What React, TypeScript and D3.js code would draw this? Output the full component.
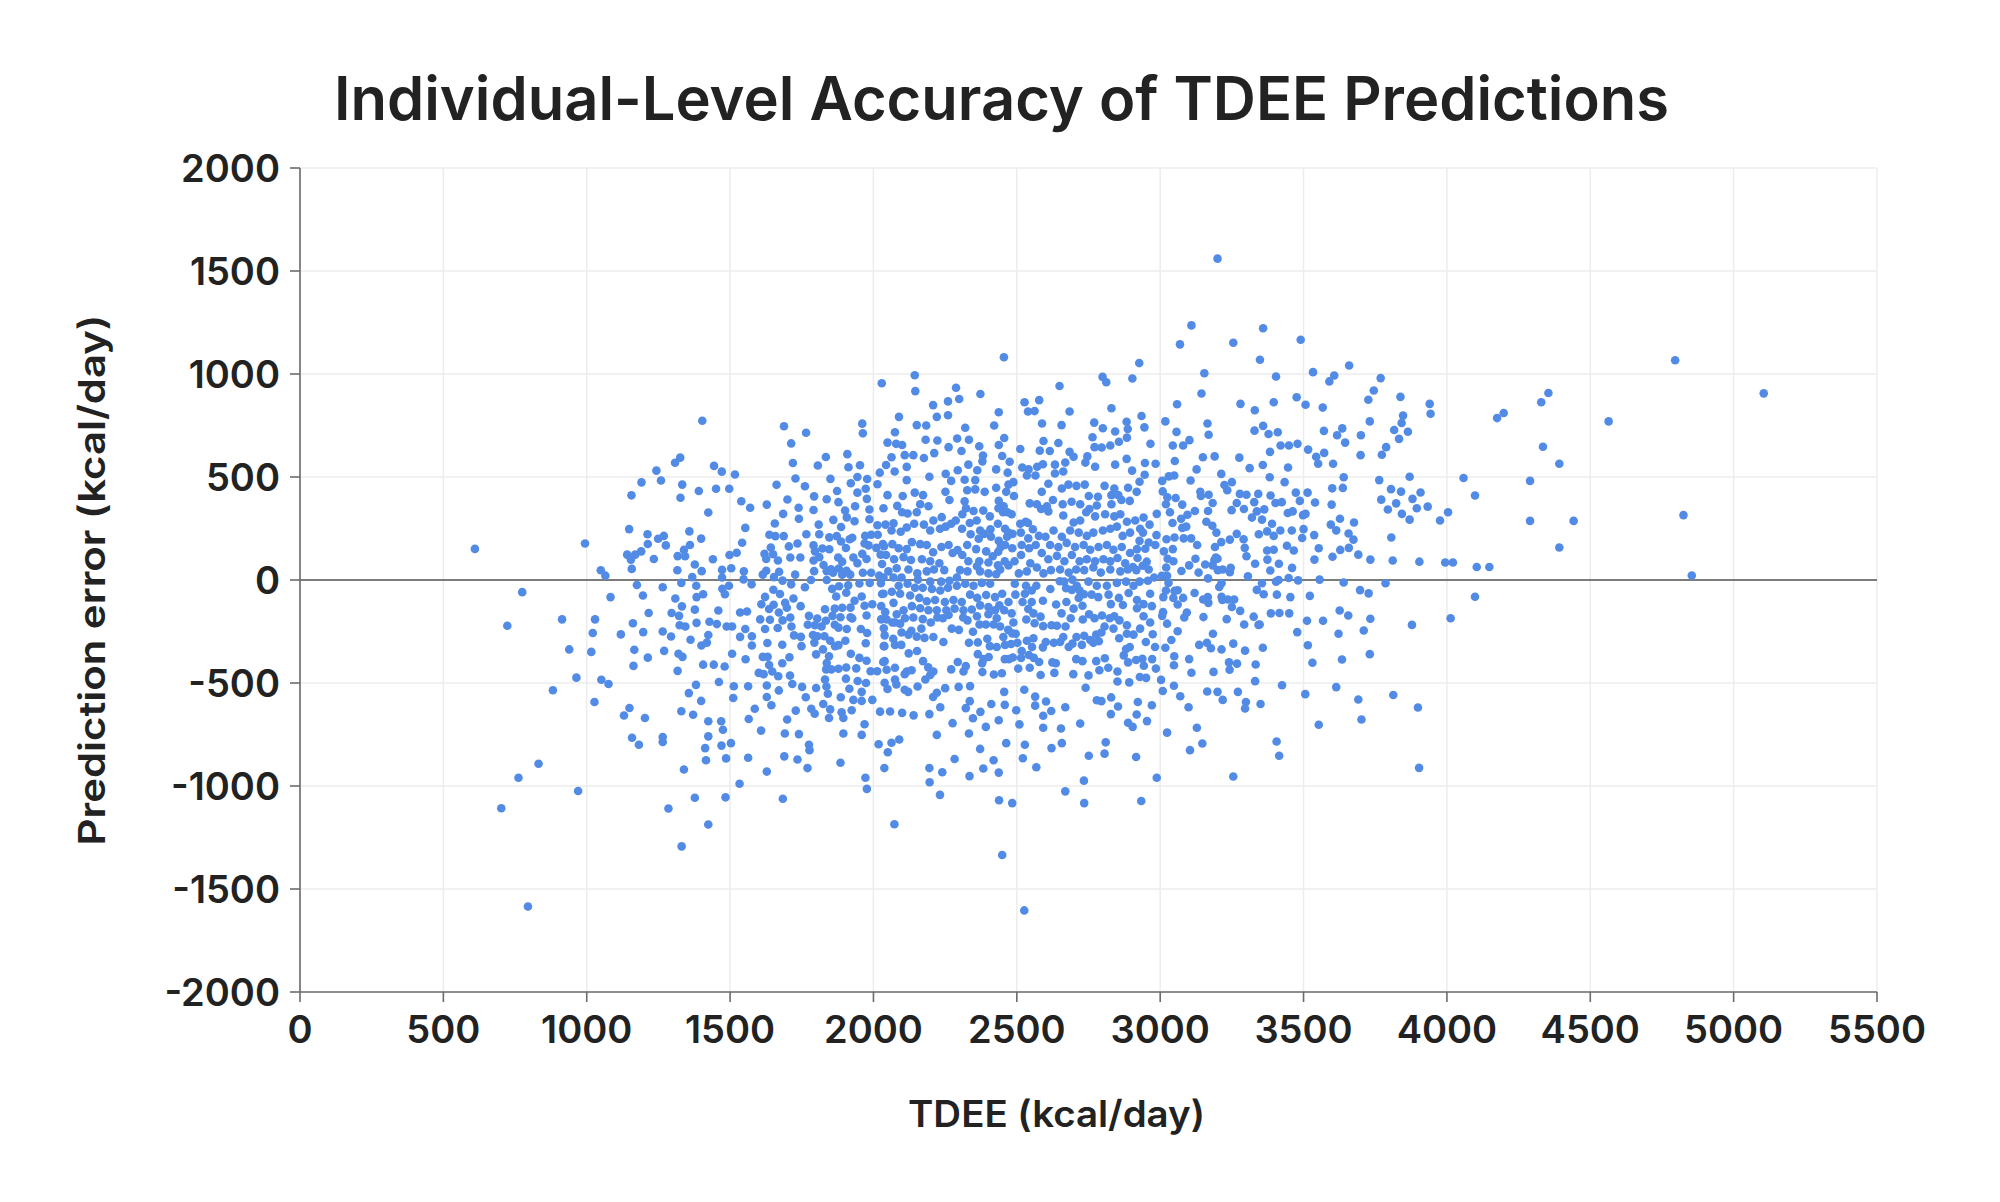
import { useEffect } from 'react'
import * as d3 from 'd3'

// TDEE (kcal/day) vs prediction error (kcal/day)
const lowRange: [number, number][] = [
  [610,151],[775,-59],[723,-222],[702,-1108],[762,-960],[832,-892],[795,-1585],[882,-535],[914,-191],[939,-337],
  [964,-474],[970,-1024],[994,177],[1027,-592],[1021,-257],[1029,-191],[1016,-349],[1049,47],[1065,21],[1083,-83],
  [1051,-484],[1076,-505],[1119,-264],[1130,-658],[1149,-621],[1148,247],[1156,411],[1157,54],[1141,123],[1154,99],
  [1169,123],[1191,474],[1190,139],[1175,-24],[1196,-75],[1161,-210],[1197,-253],[1166,-339],[1163,-417],[1158,-766],
  [1182,-800],[1203,-670],[1213,-377],[1216,-160],[1212,222],[1213,175],[1234,102],[1243,531],[1259,483],[1249,200],
  [1269,214],[1276,168],[1265,-35],[1265,-250],[1270,-344],[1265,-762],[1265,-786],[1285,-1109],[1294,-274],[1296,-160],
  [1309,-90],[1322,-174],[1324,-220],[1320,-358],[1334,-373],[1317,-441],[1330,-637],[1331,-1293],[1339,-920],[1308,569],
  [1326,594],[1333,463],[1327,399],[1316,47],[1330,-14],[1332,-128],[1317,116],[1343,115],[1339,146],[1358,236],
  [1360,170],[1344,-226],[1362,-290],[1371,-654],[1356,-549],[1377,-144],[1383,-208],[1382,-28],[1383,-83],[1368,14],
  [1377,75],[1391,432],[1403,773],[1399,201],[1401,43],[1406,-69],[1424,328],[1400,-318],[1424,-267],[1419,-304],
  [1428,-203],[1406,-411],[1399,-587],[1381,-509],[1424,-686],[1424,-759],[1413,-816],[1416,-875],[1377,-1057],[1424,-1187],
  [1444,554],[1451,443],[1440,101],[1454,-214],[1459,-148],[1443,-411],[1471,526],[1497,443],[1517,512],[1481,-420],
  [1461,-495],[1469,-686],[1475,-727],[1470,-804],[1503,-792],[1486,-866],[1484,-1055],[1533,-989],[1472,12],[1473,-43],
  [1482,-69],[1496,-28],[1504,57],[1498,121],[1523,132],[1472,49],[1507,-226],[1488,-226],[1507,-358],[1513,-516],
  [1511,-573],[1539,382],[1570,351],[1553,253],[1542,181],[1548,42],[1547,3],[1575,-21],[1535,-158],[1559,-153],
  [1535,-276],[1553,-238],[1576,-273],[1576,-318],[1554,-385],[1563,-516],[1586,-625],[1565,-675],[1563,-863],[1628,366],
  [1614,26],[1620,127],[1637,220],[1656,274],[1662,462],[1685,321],[1688,746],[1713,663],[1765,715],[1719,568],
  [1728,493],[1700,391],[1739,351],[1740,297],[1761,455],[1793,406],[1791,340],[1806,556],[1834,597],[1837,392],
  [1850,491],[1622,-82],[1609,-118],[1636,-141],[1622,-238],[1605,-191],[1630,-306],[1614,-373],[1636,-413],[1600,-451],
  [1617,-457],[1631,-373],[1628,-512],[1628,-568],[1644,-608],[1628,-930],[1608,-731],[1626,102],[1642,158],[1658,213],
  [1650,125],[1667,95],[1626,45],[1653,14],[1671,40],[1683,-3],[1651,-47],[1674,-68],[1652,-120],[1692,-111],
  [1670,-158],[1698,-135],[1639,-193],[1666,-233],[1683,-196],[1682,-314],[1682,-404],[1707,-375],[1709,-464],[1717,-505],
  [1647,-444],[1668,-467],[1670,-536],[1699,-677],[1691,-745],[1740,-748],[1689,-856],[1735,-871],[1770,-913],[1684,-1062],
  [1687,213],[1705,163],[1710,109],[1713,-21],[1727,26],[1735,177],[1745,109],[1766,222],[1809,269],[1721,-90],
  [1746,-127],[1710,-182],[1714,-226],[1723,-269],[1747,-276],[1749,-321],[1751,-519],[1764,-569],[1729,-634],[1783,-625],
  [1795,-649],[1775,-800],[1777,-826],[1761,-35],[1782,0],[1793,43],[1791,95],[1791,168],[1796,139],[1822,153],
  [1811,111],[1826,73],[1837,43],[1846,149],[1852,52],[1872,213],[1846,207],[1811,222],[1860,292],[1873,432],
  [1878,378],[1901,337],[1907,304],[1887,257],[1909,611],[1913,547],[1953,557],[1944,500],[1921,470],[1944,424],
  [1936,358],[1978,490],[1973,443],[1977,394],[1986,342],[1961,759],[1963,712],[2014,465],[2022,521],[2029,955],
  [1934,285],[1986,295],[1971,214],[1992,220],[2014,266],[2015,220],[1887,187],[1917,198],[1904,155],[1926,205],
  [1969,177],[1983,168],[2010,156],[2033,174],[1877,109],[1891,89],[1930,109],[1944,82],[1961,127],[1976,102],
  [2025,123],[2030,78],[1837,0],[1859,35],[1879,56],[1891,26],[1906,45],[1919,26],[1963,35],[1992,35],
  [2020,21],[1856,-43],[1880,-30],[1912,-26],[1951,-17],[1987,-14],[2026,-16],[1870,-80],[1905,-62],[1934,-101],
  [1959,-80],[2030,-68],[1996,-118],[1969,-125],[1920,-134],[1891,-135],[1865,-139],[1831,-142],[2027,-127],[1857,-174],
  [1885,-181],[1920,-181],[1926,-187],[1976,-172],[2027,-191],[1804,-187],[1775,-174],[1771,-217],[1796,-220],[1819,-226],
  [1834,-198],[1865,-217],[1878,-231],[1907,-238],[1956,-238],[1978,-257],[2036,-234],[1789,-267],[1804,-273],[1829,-273],
  [1849,-295],[1866,-321],[1878,-316],[1902,-295],[1973,-307],[2036,-321],[1794,-304],[1800,-361],[1824,-337],[1845,-370],
  [1921,-358],[1951,-378],[1976,-392],[2034,-398],[1837,-403],[1835,-434],[1853,-434],[1878,-431],[1905,-425],[1940,-429],
  [1990,-443],[2013,-443],[1831,-483],[1836,-517],[1904,-479],[1800,-524],[1841,-552],[1886,-569],[1916,-528],[1945,-490],
  [1974,-500],[1959,-543],[1930,-582],[1959,-587],[1996,-582],[1825,-602],[1849,-628],[1845,-670],[1889,-642],[1895,-670],
  [1924,-632],[2023,-639],[1895,-745],[1959,-752],[1969,-700],[2018,-797],[1885,-887],[1972,-960],[1977,-1014],
]

const midRange: [number, number][] = [
  [3200,1560],[3109,1236],[3069,1144],[3255,1152],[3359,1222],[3490,1166],[3348,1069],[2455,1081],[2927,1053],[2144,994],
  [2146,917],[2288,933],[2260,867],[2299,879],[2373,903],[2208,849],[2221,792],[2260,800],[2089,792],[2151,752],
  [2184,750],[2799,986],[2812,960],[2903,978],[2649,942],[2527,863],[2578,873],[2539,818],[2562,820],[2437,814],
  [2684,818],[2830,834],[3154,1004],[3144,905],[3404,988],[3280,855],[3396,863],[3476,887],[3059,853],[3018,770],
  [3165,760],[3169,705],[3330,824],[3359,748],[3329,725],[3378,709],[3410,717],[3420,653],[3449,653],[3479,661],
  [2588,760],[2656,752],[2770,764],[2800,737],[2843,721],[2883,768],[2887,733],[2935,796],[2945,741],[3057,719],
  [3102,679],[3080,653],[3044,653],[2966,661],[2884,691],[2856,671],[2826,653],[2796,643],[2771,645],[2764,693],
  [2684,622],[2698,598],[2645,665],[2593,675],[2615,626],[2580,628],[2512,636],[2421,750],[2456,689],[2437,655],
  [2449,602],[2475,574],[2369,649],[2382,604],[2333,681],[2292,687],[2320,739],[2307,626],[2262,645],[2223,677],
  [2182,681],[2212,616],[2176,592],[2139,606],[2109,606],[2075,717],[2049,667],[2079,661],[2100,655],[2063,596],
  [2044,558],[2116,549],[2074,527],[2116,485],[2195,501],[2252,515],[2294,533],[2331,560],[2362,533],[2380,576],
  [2428,537],[2468,521],[2519,546],[2541,537],[2571,550],[2591,562],[2633,560],[2669,570],[2662,527],[2739,570],
  [2746,600],[2773,550],[2843,560],[2883,588],[2902,531],[2947,568],[2984,564],[2946,511],[2928,477],[3051,578],
  [3049,507],[3030,503],[3007,481],[3106,483],[3127,537],[3149,596],[3190,600],[3213,515],[3250,475],[3276,594],
  [3312,543],[3358,558],[3382,499],[3434,475],[3446,546],[3383,622],[3224,461],[3234,436],[3278,418],[3301,414],
  [3342,418],[3385,410],[3328,378],[3249,339],[3267,374],[3292,345],[3320,303],[3337,333],[3363,343],[3402,374],
  [3424,378],[3445,325],[3462,333],[3473,424],[3487,384],[3498,315],[3355,293],[3390,273],[3419,240],[3373,236],
  [3396,214],[3344,222],[3267,224],[3243,196],[3291,198],[3295,156],[3373,143],[3396,147],[3442,166],[3459,240],
  [3460,59],[3495,204],[3500,247],[3466,143],[3301,115],[3331,79],[3374,99],[3414,79],[3384,46],[3306,18],
  [3355,-16],[3404,-8],[3413,0],[3448,10],[3481,-2],[3337,-48],[3361,-69],[3407,-71],[3454,-83],[3386,-162],
  [3416,-160],[3450,-162],[3343,-218],[3326,-178],[3293,-216],[3279,-150],[3250,-131],[3236,-95],[3258,-95],[3214,-81],
  [3232,-190],[3217,-97],[3206,-34],[3214,-16],[3218,51],[3201,48],[3183,71],[3189,97],[3243,38],[3246,59],
  [3200,103],[3213,184],[3191,160],[3196,230],[3161,283],[3182,263],[3167,335],[3183,374],[3169,414],[3140,428],
  [3142,408],[3121,335],[3095,317],[3073,297],[3077,253],[3091,259],[3108,202],[3129,170],[3082,202],[3050,206],
  [3022,198],[3043,277],[3034,329],[3077,366],[3054,398],[3020,368],[3025,402],[3009,430],[2988,321],[2987,218],
  [2983,170],[2960,182],[2948,152],[2928,190],[2940,230],[2953,89],[2939,69],[2917,48],[2921,107],[2905,63],
  [2960,51],[3013,139],[3044,150],[3026,103],[3046,91],[3021,61],[3074,44],[3101,71],[3123,103],[3157,75],
  [3194,109],[3134,36],[3167,8],[3024,20],[3006,20],[2979,12],[2928,-8],[2957,-4],[3029,-14],[3020,-51],
  [3050,-53],[3061,-50],[3011,-83],[3046,-87],[3080,-87],[3120,-63],[3150,-95],[3168,-111],[3166,-83],[3093,-158],
  [3084,-182],[3061,-119],[3010,-156],[3007,-174],[3024,-212],[3061,-249],[3039,-291],[3018,-329],[3049,-370],[3048,-414],
  [3101,-384],[3109,-450],[3136,-315],[3163,-305],[3177,-331],[3184,-261],[3151,-180],[3214,-337],[3255,-309],[3268,-406],
  [3240,-400],[3242,-436],[3296,-343],[3347,-216],[3358,-329],[3333,-410],[3331,-491],[3350,-602],[3299,-592],[3296,-624],
  [3271,-543],[3218,-582],[3200,-543],[3164,-541],[3186,-446],[3099,-618],[3070,-564],[3128,-717],[3147,-794],[3104,-826],
  [3024,-741],[3009,-539],[3003,-485],[3048,-513],[2985,-430],[2972,-384],[2982,-325],[2974,-263],[2950,-301],[2938,-382],
  [2943,-416],[2951,-475],[2929,-471],[2892,-497],[2851,-493],[2851,-444],[2819,-426],[2788,-438],[2750,-463],[2697,-457],
  [2631,-451],[2583,-461],[2545,-426],[2505,-430],[2515,-378],[2542,-364],[2578,-398],[2624,-400],[2636,-404],[2707,-384],
  [2729,-394],[2777,-394],[2807,-380],[2873,-366],[2888,-400],[2916,-388],[2894,-325],[2857,-283],[2881,-335],[2884,-261],
  [2884,-220],[2858,-196],[2870,-121],[2890,-63],[2856,-87],[2828,-117],[2820,-71],[2784,-83],[2761,-71],[2734,-69],
  [2716,-87],[2719,-51],[2709,-28],[2692,-48],[2672,-40],[2694,2],[2665,-8],[2650,-6],[2617,-44],[2591,-101],
  [2637,-119],[2673,-107],[2656,-162],[2698,-139],[2729,-125],[2688,-186],[2730,-192],[2752,-166],[2771,-186],[2797,-172],
  [2824,-186],[2840,-176],[2806,-226],[2837,-236],[2795,-255],[2777,-265],[2767,-305],[2786,-297],[2756,-291],[2735,-271],
  [2708,-277],[2727,-315],[2694,-309],[2681,-325],[2662,-277],[2651,-301],[2629,-305],[2601,-301],[2591,-327],[2558,-283],
  [2553,-325],[2559,-378],[2535,-295],[2562,-210],[2592,-224],[2621,-220],[2640,-222],[2670,-226],[2583,-178],[2558,-162],
  [2533,-192],[2520,-107],[2540,-141],[2552,-107],[2528,-67],[2552,-51],[2568,-28],[2532,-28],[2493,-18],[2495,-71],
  [2482,-162],[2488,-206],[2470,-242],[2484,-259],[2496,-261],[2502,-305],[2517,-345],[2480,-311],[2453,-277],[2459,-315],
  [2442,-226],[2456,-147],[2430,-186],[2419,-216],[2392,-216],[2370,-216],[2347,-251],[2328,-196],[2313,-182],[2298,-242],
  [2333,-305],[2364,-303],[2397,-285],[2406,-321],[2430,-325],[2472,-384],[2486,-376],[2458,-384],[2448,-453],[2420,-459],
  [2380,-447],[2364,-360],[2384,-384],[2402,-374],[2379,-404],[2314,-444],[2322,-418],[2294,-398],[2271,-434],[2244,-301],
  [2273,-236],[2242,-186],[2223,-182],[2200,-206],[2209,-277],[2178,-281],[2151,-275],[2167,-236],[2132,-246],[2122,-265],
  [2098,-255],[2075,-206],[2093,-212],[2066,-206],[2046,-192],[2039,-269],[2069,-285],[2075,-315],[2097,-315],[2038,-321],
  [2123,-356],[2152,-345],[2173,-394],[2191,-424],[2209,-444],[2198,-461],[2181,-483],[2154,-517],[2121,-543],[2109,-533],
  [2080,-507],[2049,-529],[2075,-426],[2046,-436],[2039,-394],[2116,-444],[2133,-438],[2039,-499],[2075,-483],[2109,-457],
  [2221,-547],[2250,-525],[2297,-519],[2337,-515],[2336,-588],[2322,-622],[2373,-640],[2347,-671],[2411,-602],[2456,-543],
  [2458,-606],[2437,-681],[2392,-713],[2333,-745],[2276,-695],[2221,-752],[2233,-618],[2208,-568],[2195,-651],[2140,-657],
  [2100,-645],[2058,-638],[2090,-774],[2063,-790],[2050,-836],[2038,-913],[2195,-913],[2196,-982],[2240,-933],[2232,-1043],
  [2283,-869],[2335,-952],[2372,-820],[2383,-915],[2419,-875],[2437,-935],[2463,-792],[2438,-1069],[2484,-1083],[2449,-1335],
  [2073,-1186],[2526,-1604],[2498,-632],[2509,-701],[2521,-865],[2528,-800],[2568,-909],[2564,-610],[2564,-566],[2592,-659],
  [2592,-717],[2620,-636],[2602,-590],[2654,-721],[2657,-792],[2621,-816],[2669,-618],[2526,-533],[2721,-697],[2669,-1026],
  [2734,-974],[2735,-1083],[2751,-853],[2740,-523],[2779,-584],[2795,-588],[2829,-570],[2828,-651],[2853,-614],[2810,-788],
  [2806,-843],[2888,-693],[2904,-713],[2918,-653],[2922,-592],[2954,-685],[2971,-608],[2916,-859],[2934,-1073],[2988,-960],
  [3255,-954],[3406,-784],[3415,-853],[3425,-511],[3478,-253],
  [2049,412],[2102,408],[2144,424],[2173,412],[2251,428],[2271,481],[2265,388],[2318,487],[2327,436],[2355,485],
  [2388,428],[2355,440],[2428,448],[2437,384],[2454,358],[2471,463],[2488,475],[2490,408],[2463,428],[2436,348],
  [2467,329],[2452,329],[2482,319],[2406,309],[2383,337],[2349,335],[2323,348],[2318,382],[2310,319],[2287,289],
  [2271,273],[2238,305],[2209,289],[2192,358],[2163,368],[2151,329],[2119,323],[2100,329],[2083,360],[2035,348],
  [2070,275],[2042,269],[2063,240],[2095,234],[2116,255],[2142,273],[2176,269],[2198,240],[2232,249],[2252,259],
  [2309,249],[2336,277],[2360,289],[2372,240],[2408,246],[2434,273],[2459,249],[2470,230],[2485,224],[2512,273],
  [2539,277],[2556,246],[2514,230],[2540,202],[2577,214],[2566,170],[2543,154],[2517,170],[2515,121],[2492,91],
  [2484,154],[2459,170],[2466,210],[2437,190],[2410,210],[2386,224],[2367,200],[2339,222],[2327,170],[2358,150],
  [2393,139],[2416,115],[2435,137],[2444,160],[2458,91],[2471,71],[2434,71],[2401,85],[2369,91],[2361,67],
  [2331,91],[2310,121],[2293,145],[2276,131],[2262,170],[2237,160],[2208,135],[2186,170],[2163,174],[2134,184],
  [2116,150],[2088,154],[2066,174],[2037,164],[2044,121],[2072,101],[2105,111],[2131,97],[2169,101],[2198,91],
  [2230,81],[2247,48],[2211,51],[2186,42],[2153,32],[2122,51],[2081,57],[2052,42],[2035,12],[2070,12],
  [2098,12],[2155,2],[2198,-8],[2236,-8],[2265,-4],[2291,12],[2302,48],[2328,42],[2372,42],[2401,32],
  [2428,28],[2442,51],[2407,-18],[2378,-14],[2349,-28],[2320,-18],[2291,-28],[2260,-38],[2233,-51],[2204,-44],
  [2172,-38],[2145,-38],[2119,-18],[2088,-28],[2064,-57],[2035,-67],[2070,-111],[2093,-67],[2128,-75],[2160,-87],
  [2186,-103],[2215,-97],[2249,-107],[2279,-97],[2308,-107],[2337,-71],[2362,-87],[2393,-73],[2424,-83],[2449,-67],
  [2471,-107],[2439,-123],[2401,-131],[2372,-123],[2343,-143],[2314,-147],[2283,-139],[2254,-147],[2221,-147],[2192,-147],
  [2163,-137],[2134,-127],[2105,-147],[2081,-166],[2041,-156],[2110,-186],[2139,-182],[2172,-190],[2262,-170],[2361,-176],
  [2401,-166],[2424,-147],
  [2535,507],[2565,507],[2587,428],[2610,467],[2633,517],[2657,444],[2680,463],[2708,457],[2737,463],[2751,408],
  [2783,404],[2806,457],[2840,444],[2854,412],[2888,448],[2918,428],[2894,384],[2865,388],[2830,412],[2830,368],
  [2779,362],[2753,345],[2721,368],[2691,380],[2660,368],[2626,388],[2605,358],[2570,368],[2545,372],[2531,283],
  [2585,345],[2610,333],[2662,313],[2698,279],[2721,289],[2742,329],[2773,309],[2808,319],[2840,309],[2861,319],
  [2884,283],[2913,289],[2942,303],[2963,269],[2930,249],[2895,230],[2869,214],[2849,259],[2826,249],[2800,240],
  [2767,230],[2744,214],[2716,230],[2686,240],[2657,210],[2628,240],[2600,210],[2616,170],[2645,160],[2674,180],
  [2703,160],[2733,170],[2756,147],[2785,160],[2814,170],[2837,147],[2866,160],[2895,131],[2919,150],[2587,131],
  [2610,101],[2640,117],[2666,91],[2692,121],[2719,91],[2744,101],[2773,91],[2802,101],[2826,91],[2851,107],
  [2878,81],[2887,51],[2861,42],[2826,51],[2793,36],[2767,61],[2735,48],[2707,51],[2681,36],[2651,51],
  [2619,48],[2593,32],[2570,61],[2547,81],[2535,42],[2507,32],[2750,-8],[2779,-28],[2814,-28],[2849,-14],
  [2881,-8],[2907,-28],[2919,-97],[2942,-117],[2919,-137],[2965,-67],[2971,-127],[2942,-176],[2965,-206],[2930,-236],
  [2907,-265],
]

const highRange: [number, number][] = [
  [3659,1041],[3533,1009],[3607,993],[3590,964],[3769,980],[3745,920],[3726,875],[3838,889],[3507,851],[3567,837],
  [3940,855],[3943,807],[3847,798],[3842,762],[3731,770],[3816,728],[3864,720],[3833,685],[3571,724],[3635,736],
  [3617,703],[3645,667],[3700,703],[3788,645],[3773,608],[3699,606],[3516,633],[3544,598],[3572,617],[3551,564],
  [3603,564],[3640,499],[3764,485],[3870,501],[3600,445],[3637,447],[3514,424],[3540,376],[3598,366],[3805,441],
  [3840,429],[3908,425],[3771,390],[3823,372],[3880,394],[3794,342],[3895,348],[3933,356],[3843,321],[3870,293],
  [3507,321],[3595,269],[3614,241],[3627,297],[3676,279],[3657,226],[3674,196],[3537,218],[3553,154],[3628,146],
  [3658,156],[3601,113],[3691,123],[3538,99],[3733,99],[3806,206],[3811,95],[3904,89],[3976,289],[4004,329],
  [4058,495],[4098,410],[3994,85],[4021,85],[4104,63],[4148,63],[4175,786],[4198,811],[4290,481],[4290,287],
  [4329,863],[4354,908],[4335,647],[4392,564],[4392,158],[4442,287],[4564,770],[4796,1067],[4825,315],[4854,22],
  [5105,906],[3556,2],[3640,-12],[3786,-16],[3522,-77],[3697,-49],[3727,-65],[4098,-81],[3626,-148],[3656,-172],
  [3512,-198],[3568,-198],[3733,-188],[3878,-218],[4013,-186],[3622,-261],[3710,-245],[3515,-317],[3531,-402],[3634,-386],
  [3731,-360],[3506,-554],[3614,-520],[3691,-580],[3813,-558],[3899,-619],[3553,-703],[3702,-677],[3903,-912],
]

const points = [...lowRange, ...midRange, ...highRange]

const xTickValues = [0, 500, 1000, 1500, 2000, 2500, 3000, 3500, 4000, 4500, 5000, 5500]
const yTickValues = [-2000, -1500, -1000, -500, 0, 500, 1000, 1500, 2000]

const title = 'Individual-Level Accuracy of TDEE Predictions'
const xLabel = 'TDEE (kcal/day)'
const yLabel = 'Prediction error (kcal/day)'

const font = 'Inter, "Noto Sans", sans-serif'

export default function App() {
  useEffect(() => {
    document.body.style.margin = '0'
  }, [])

  const width = 2000
  const height = 1202

  const x = d3.scaleLinear().domain([0, 5500]).range([300, 1877])
  const y = d3.scaleLinear().domain([-2000, 2000]).range([992, 168])
  const [x0, x1] = x.range()
  const [y0, y1] = y.range()

  return (
    <svg width={width} height={height} style={{ display: 'block', background: '#fff' }}>
      {/* grid */}
      <g stroke="#ececec" strokeWidth={1.5}>
        {xTickValues.map(v => (
          <line key={'gx' + v} x1={x(v)} x2={x(v)} y1={y1} y2={y0} />
        ))}
        {yTickValues.map(v => (
          <line key={'gy' + v} x1={x0} x2={x1} y1={y(v)} y2={y(v)} />
        ))}
      </g>

      {/* zero line */}
      <line x1={x0} x2={x1} y1={y(0)} y2={y(0)} stroke="#555" strokeWidth={1.6} />

      {/* axes */}
      <g stroke="#6b6b6b" strokeWidth={1.6}>
        <line x1={x0} x2={x0} y1={y1} y2={y0} />
        <line x1={x0} x2={x1} y1={y0} y2={y0} />
        {yTickValues.map(v => (
          <line key={'ty' + v} x1={x0 - 10} x2={x0} y1={y(v)} y2={y(v)} />
        ))}
        {xTickValues.map(v => (
          <line key={'tx' + v} x1={x(v)} x2={x(v)} y1={y0} y2={y0 + 10} />
        ))}
      </g>

      {/* points */}
      <g fill="#528be5">
        {points.map((d, i) => (
          <circle key={i} cx={x(d[0])} cy={y(d[1])} r={4.3} />
        ))}
      </g>

      {/* tick labels */}
      <g fontFamily={font} fontSize={38} fontWeight={600} fill="#222">
        {yTickValues.map(v => (
          <text key={'ly' + v} x={x0 - 20} y={y(v) + 13.5} textAnchor="end">
            {v < 0 ? '-' + Math.abs(v) : String(v)}
          </text>
        ))}
        {xTickValues.map(v => (
          <text key={'lx' + v} x={x(v)} y={y0 + 51} textAnchor="middle">
            {v}
          </text>
        ))}
      </g>

      {/* titles */}
      <text x={334} y={120} fontFamily={font} fontSize={60} fontWeight={600} fill="#222"
        textLength={1335} lengthAdjust="spacingAndGlyphs">{title}</text>
      <text x={908} y={1127} fontFamily={font} fontSize={37} fontWeight={600} fill="#222"
        textLength={297} lengthAdjust="spacingAndGlyphs">{xLabel}</text>
      <text transform={`translate(105,${(y0 + y1) / 2}) rotate(-90)`} textAnchor="middle"
        fontFamily={font} fontSize={37} fontWeight={600} fill="#222"
        textLength={531} lengthAdjust="spacingAndGlyphs">{yLabel}</text>
    </svg>
  )
}
